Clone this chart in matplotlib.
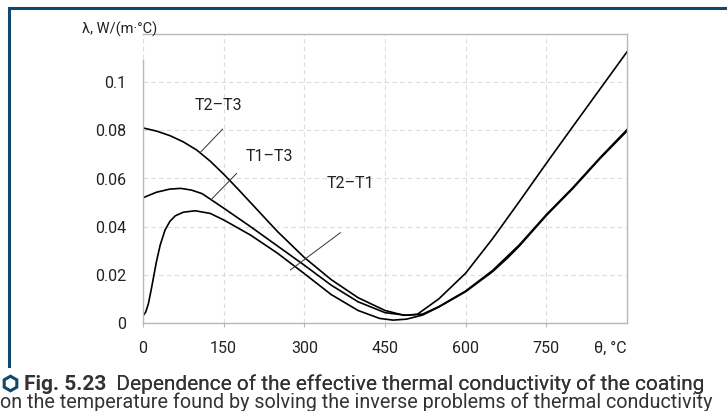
import matplotlib
matplotlib.use("Agg")
import matplotlib.pyplot as plt
from matplotlib import font_manager
from matplotlib.lines import Line2D

# temperature, deg C and effective conductivity
theta_21 = [0, 5, 10, 15, 20, 25, 32, 41, 50, 60, 75, 97, 125, 150, 200, 250, 300,
            350, 400, 440, 465, 490, 520, 550, 600, 650, 677, 700, 750, 800, 850, 900]
lam_21 = [0.003, 0.0045, 0.008, 0.0135, 0.0195, 0.0255, 0.0324, 0.0386, 0.0422,
          0.0445, 0.0460, 0.0466, 0.0455, 0.0428, 0.0365, 0.0290, 0.0205, 0.0118,
          0.0052, 0.0019, 0.0012, 0.0016, 0.0033, 0.0066, 0.0130, 0.0213, 0.0268,
          0.0320, 0.0446, 0.0560, 0.0683, 0.0797]

theta_13 = [0, 25, 50, 70, 90, 110, 150, 200, 250, 300, 350, 400, 450, 490, 520,
            550, 600, 650, 700, 750, 800, 850, 900]
lam_13 = [0.052, 0.0543, 0.0556, 0.0559, 0.0552, 0.0537, 0.0477, 0.0400, 0.0320,
          0.0240, 0.0157, 0.0088, 0.0043, 0.0032, 0.0037, 0.0068, 0.0133, 0.0218,
          0.0325, 0.0450, 0.0564, 0.0687, 0.0803]

theta_23 = [0, 25, 50, 75, 100, 125, 150, 175, 200, 250, 300, 350, 400, 450, 485,
            510, 550, 600, 650, 700, 750, 800, 850, 900]
lam_23 = [0.081, 0.0797, 0.0778, 0.0752, 0.0718, 0.0672, 0.0618, 0.0560, 0.0500,
          0.0380, 0.0272, 0.0180, 0.0105, 0.0052, 0.0032, 0.0036, 0.0100, 0.0207,
          0.0350, 0.0505, 0.0663, 0.0818, 0.0972, 0.1126]

x_ticks = [0, 150, 300, 450, 600, 750]
y_ticks = [0, 0.02, 0.04, 0.06, 0.08, 0.1]
y_labels = ["0", "0.02", "0.04", "0.06", "0.08", "0.1"]

caption_bold = "Fig. 5.23"
caption_1 = "  Dependence of the effective thermal conductivity of the coating"
caption_2 = "on the temperature found by solving the inverse problems of thermal conductivity"


def have(name):
    try:
        font_manager.findfont(name, fallback_to_default=False)
        return True
    except Exception:
        return False


narrow = "Liberation Sans Narrow" if have("Liberation Sans Narrow") else "Roboto"
plt.rcParams["font.family"] = ["Roboto", "DejaVu Sans"]

W, H = 727, 411
fig = plt.figure(figsize=(W / 100, H / 100), dpi=100)
ax = fig.add_axes([143 / W, 1 - 323 / H, (627 - 143) / W, (323 - 34) / H])

for th, lam in [(theta_23, lam_23), (theta_13, lam_13), (theta_21, lam_21)]:
    ax.plot(th, lam, color="black", lw=1.2, solid_joinstyle="round")

ax.set_xlim(0, 900)
ax.set_ylim(0, 0.12)
ax.set_xticks(x_ticks)
ax.set_yticks(y_ticks)
ax.set_yticklabels(y_labels)
ax.grid(True, color="#dcdcdc", ls=(0, (4, 3)), lw=0.8)
ax.tick_params(axis="x", length=3, color="#b8b8b8", labelsize=11.5, pad=10, labelcolor="#222222")
ax.tick_params(axis="y", length=0, labelsize=11.5, pad=12, labelcolor="#222222")
for s in ax.spines.values():
    s.set_color("#b8b8b8")
    s.set_linewidth(1.0)
ax.spines["left"].set_bounds(0, 0.109)

# leader lines and curve labels
ax.plot([106, 148], [0.0707, 0.0805], color="#333333", lw=0.7)
ax.text(140, 0.0905, "T2\u2013T3", ha="center", va="center", fontsize=11.5, color="#222222")
ax.plot([127, 174], [0.0513, 0.0621], color="#333333", lw=0.7)
ax.text(235, 0.0690, "T1\u2013T3", ha="center", va="center", fontsize=11.5, color="#222222")
ax.plot([274, 367], [0.0220, 0.0375], color="#333333", lw=0.7)
ax.text(385, 0.0580, "T2\u2013T1", ha="center", va="center", fontsize=11.5, color="#222222")

fig.text(120 / W, 1 - 29 / H, "\u03bb, W/(m\u00b7\u00b0C)", ha="center", va="center",
         fontsize=10.5, color="#222222")
ax.text(1.0, -0.087, "\u03b8, \u00b0C", transform=ax.transAxes, ha="right", va="center",
        fontsize=11.5, color="#222222")

# blue frame
blue = "#0f4a6c"
fig.add_artist(Line2D([9 / W, 1], [1 - 8 / H, 1 - 8 / H], color=blue, lw=2.2))
fig.add_artist(Line2D([9 / W, 9 / W], [1 - 8 / H, 1 - 366 / H], color=blue, lw=2.2))

# caption
fig.add_artist(Line2D([10 / W], [1 - 383 / H], marker="h", ms=10.5, mfc="white",
                      mec=blue, mew=2.2))
t1 = fig.text(24 / W, 1 - 390 / H, caption_bold, fontsize=15, fontweight="bold",
              family=narrow, color="#333333", va="baseline")
fig.texts.append(ax.annotate(caption_1, xy=(1, 0), xycoords=t1, va="bottom",
                             fontsize=15, family=narrow, color="#333333",
                             annotation_clip=False))
fig.text(0 / W, 1 - 408 / H, caption_2, fontsize=14.2, family=narrow, color="#333333",
         va="baseline")

fig.savefig("out.png", dpi=100)
